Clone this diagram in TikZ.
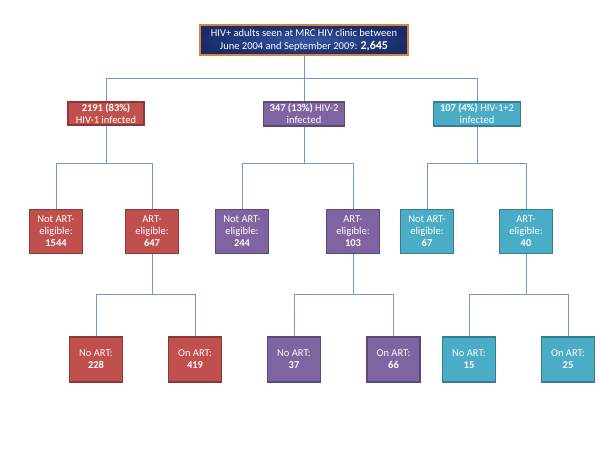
\documentclass[tikz,border=0pt]{standalone}
\usepackage{fontspec}
\setmainfont{Carlito}
\definecolor{redf}{HTML}{C0504D}
\definecolor{redd}{HTML}{8C3836}
\definecolor{purf}{HTML}{8064A2}
\definecolor{purd}{HTML}{5C4776}
\definecolor{teaf}{HTML}{4BACC6}
\definecolor{tead}{HTML}{357D91}
\definecolor{navyin}{HTML}{3556A0}
\definecolor{navyout}{HTML}{1A2D6B}
\definecolor{orangeb}{HTML}{D9843A}
\definecolor{linec}{HTML}{6E98D0}
\begin{document}
\begin{tikzpicture}[x=1pt,y=-1pt,
  box/.style={draw, line width=1.2pt, text=white, inner sep=0pt, align=center,
    font=\fontsize{10.5}{12}\selectfont},
  redbox/.style={box, fill=redf, draw=redd},
  purbox/.style={box, fill=purf, draw=purd},
  teabox/.style={box, fill=teaf, draw=tead},
  small/.style={minimum width=53pt, minimum height=44pt},
  conn/.style={draw=linec, line width=0.9pt}
]
\useasboundingbox (0,0) rectangle (600,450);

\node[box, draw=orangeb, inner color=navyin, outer color=navyout, minimum width=208pt, minimum height=30pt,
  font=\fontsize{10.5}{13.5}\selectfont] (top) at (304,40)
  {HIV+ adults seen at MRC HIV clinic between\\June 2004 and September 2009: {\fontsize{12}{13.5}\selectfont\bfseries 2,645}};

\node[redbox, minimum width=76pt, minimum height=23pt] (r1) at (106,113.5) {\textbf{2191 (83\%)}\\HIV-1 infected};
\node[purbox, minimum width=81pt, minimum height=24pt] (p1) at (304,114) {\textbf{347 (13\%)} HIV-2\\infected};
\node[teabox, minimum width=87pt, minimum height=24pt] (t1) at (477,114) {\textbf{107 (4\%)} HIV-1+2\\infected};

\node[redbox, small] (rn) at (56,231.5) {Not ART-\\eligible:\\\textbf{1544}};
\node[redbox, small] (ra) at (152,231.5) {ART-\\eligible:\\\textbf{647}};
\node[purbox, small] (pn) at (242,231.5) {Not ART-\\eligible:\\\textbf{244}};
\node[purbox, small] (pa) at (353,231.5) {ART-\\eligible:\\\textbf{103}};
\node[teabox, small] (tn) at (427,231.5) {Not ART-\\eligible:\\\textbf{67}};
\node[teabox, small] (ta) at (526,231.5) {ART-\\eligible:\\\textbf{40}};

\node[redbox, small, minimum height=45pt] (rna) at (96,359.5) {No ART:\\\textbf{228}};
\node[redbox, small, minimum height=45pt] (roa) at (195,359.5) {On ART:\\\textbf{419}};
\node[purbox, small, minimum height=45pt] (pna) at (294,359.5) {No ART:\\\textbf{37}};
\node[purbox, small, minimum height=45pt] (poa) at (393.5,359.5) {On ART:\\\textbf{66}};
\node[teabox, small, minimum height=45pt] (tna) at (469,359.5) {No ART:\\\textbf{15}};
\node[teabox, small, minimum height=45pt] (toa) at (568,359.5) {On ART:\\\textbf{25}};

\coordinate (j0) at (304,78);
\coordinate (jr) at (106,163);
\coordinate (jp) at (304,163);
\coordinate (jt) at (477,163);
\coordinate (jr2) at (152,294);
\coordinate (jp2) at (353,294);
\coordinate (jt2) at (526,294);

\path[conn] (top.south) -- (p1.north);
\path[conn] (j0) -| (r1.north);
\path[conn] (j0) -| (t1.north);

\path[conn] (r1.south) -- (jr);
\path[conn] (jr) -| (rn.north);
\path[conn] (jr) -| (ra.north);
\path[conn] (p1.south) -- (jp);
\path[conn] (jp) -| (pn.north);
\path[conn] (jp) -| (pa.north);
\path[conn] (t1.south) -- (jt);
\path[conn] (jt) -| (tn.north);
\path[conn] (jt) -| (ta.north);

\path[conn] (ra.south) -- (jr2);
\path[conn] (jr2) -| (rna.north);
\path[conn] (jr2) -| (roa.north);
\path[conn] (pa.south) -- (jp2);
\path[conn] (jp2) -| (pna.north);
\path[conn] (jp2) -| (poa.north);
\path[conn] (ta.south) -- (jt2);
\path[conn] (jt2) -| (tna.north);
\path[conn] (jt2) -| (toa.north);
\end{tikzpicture}
\end{document}
